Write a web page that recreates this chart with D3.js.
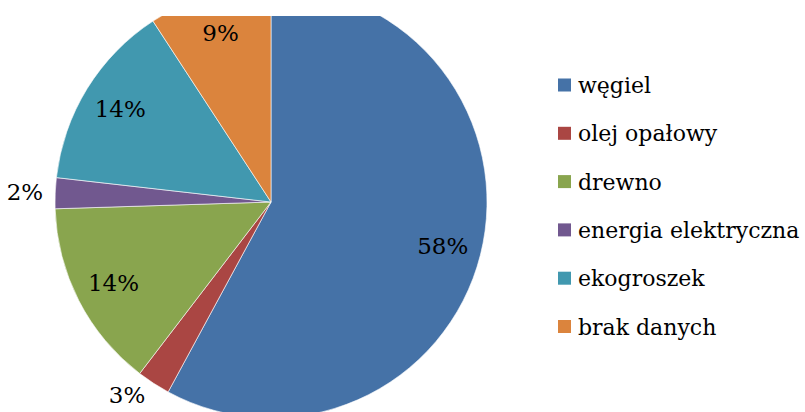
<!DOCTYPE html>
<html>
<head>
<meta charset="utf-8">
<script src="https://cdn.jsdelivr.net/npm/d3@7"></script>
<style>
  body { margin: 0; background: #fff; }
  text { font-family: "DejaVu Serif", serif; font-size: 22px; fill: #000; }
  text.pct { font-size: 23px; }
</style>
</head>
<body>
<svg id="chart" width="805" height="412"></svg>
<script>
// fuel categories and their shares (percent)
const categories = ["węgiel", "olej opałowy", "drewno", "energia elektryczna", "ekogroszek", "brak danych"];
const shares = [57.9, 2.5, 14.1, 2.3, 14.0, 9.2];
const colours = ["#4572A7", "#AA4643", "#89A54E", "#71588F", "#4198AF", "#DB843D"];

let svg = d3.select("#chart");
let width = 805, height = 412;

let cx = 271, cy = 202, radius = 216;

// the chart area is cropped at the top and bottom
svg.append("defs").append("clipPath")
    .attr("id", "plotclip")
    .append("rect")
    .attr("x", 0).attr("y", 16)
    .attr("width", 545).attr("height", height - 16);

let root = svg.append("g")
    .attr("clip-path", "url(#plotclip)");

let plot = root.append("g")
    .attr("transform", `translate(${cx},${cy})`);

let data = categories.map((c, i) => ({name: c, value: shares[i], colour: colours[i]}));

let pie = d3.pie()
    .value(d => d.value)
    .sort(null);

let arc = d3.arc()
    .innerRadius(0)
    .outerRadius(radius);

let inside = d3.arc().innerRadius(radius * 0.82).outerRadius(radius * 0.82);
let outside = d3.arc().innerRadius(radius * 1.14).outerRadius(radius * 1.14);

let arcs = pie(data);

plot.selectAll("path.slice")
    .data(arcs)
    .enter()
    .append("path")
    .attr("class", "slice")
    .attr("d", arc)
    .attr("fill", d => d.data.colour)
    .attr("stroke", "#fff")
    .attr("stroke-width", 0.6);

// small slices get their label outside the pie, kept inside the picture
let maxY = height - 17;
svg.selectAll("text.pct")
    .data(arcs)
    .enter()
    .append("text")
    .attr("class", "pct")
    .attr("transform", d => {
        let p = d.data.value < 5 ? outside.centroid(d) : inside.centroid(d);
        let x = cx + p[0];
        let y = cy + p[1];
        if (d.data.value < 5 && y > maxY) { x -= 10; y = maxY; }
        return `translate(${x},${y})`;
    })
    .attr("text-anchor", "middle")
    .attr("dy", "0.36em")
    .text(d => Math.round(d.data.value) + "%");

// legend
let legend = svg.append("g")
    .attr("transform", "translate(558,85)");

let rows = legend.selectAll("g.row")
    .data(data)
    .enter()
    .append("g")
    .attr("class", "row")
    .attr("transform", (d, i) => `translate(0,${i * 48.3})`);

rows.append("rect")
    .attr("x", 0).attr("y", -6.5)
    .attr("width", 13).attr("height", 13)
    .attr("fill", d => d.colour);

rows.append("text")
    .attr("x", 20)
    .attr("y", 8)
    .text(d => d.name);
</script>
</body>
</html>
